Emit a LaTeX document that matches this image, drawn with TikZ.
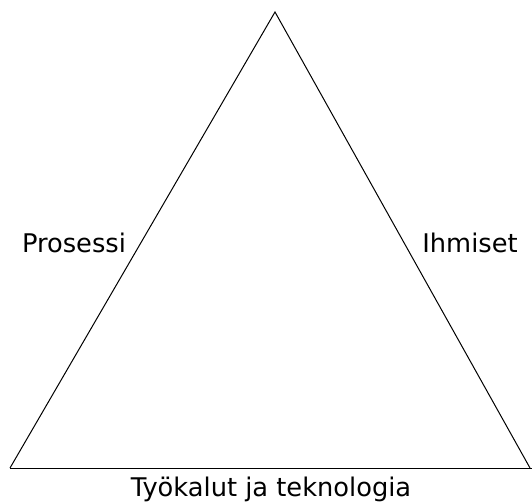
\documentclass[tikz,border=0pt]{standalone}
\usepackage{fontspec}
\setmainfont{DejaVu Sans}
\begin{document}
\begin{tikzpicture}[x=1pt,y=-1pt,
  edge/.style={draw=black,line width=1pt},
  lbl/.style={inner sep=0pt,font=\fontsize{25.7}{30}\selectfont,text=black}]
\useasboundingbox (0,0) rectangle (532,503);
% corners of the triangle
\coordinate (top) at (275,12);
\coordinate (bl) at (10,468);
\coordinate (br) at (530,468);
\coordinate (bend) at (532,468);
\draw[edge,line join=miter] (bl) -- (top) -- (br);
\draw[edge] (bl) -- (bend);
% side labels
\node[lbl] (proc) at (74,243) {Prosessi};
\node[lbl] (people) at (470,243) {Ihmiset};
\node[lbl] (tools) at (271,489) {Työkalut ja teknologia};
\end{tikzpicture}
\end{document}
